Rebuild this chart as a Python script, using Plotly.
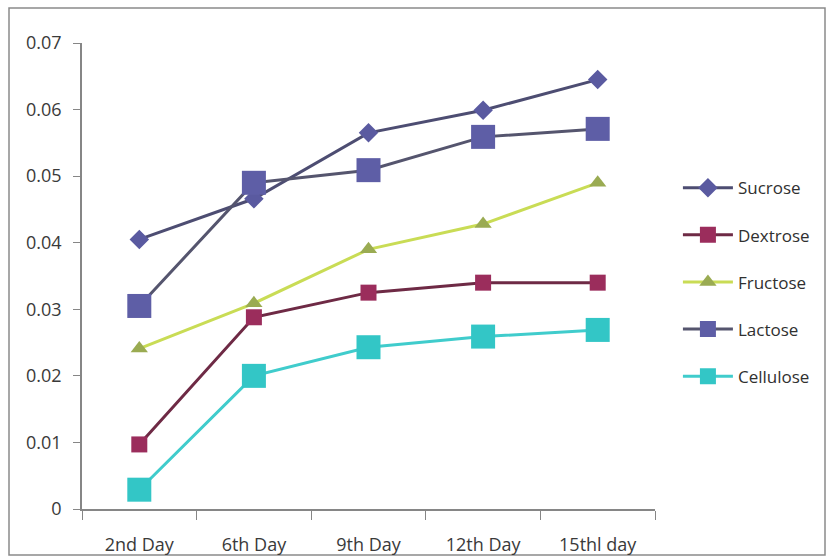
import plotly.graph_objects as go

days = ["2nd Day", "6th Day", "9th Day", "12th Day", "15thl day"]

sucrose = [0.0405, 0.0466, 0.0565, 0.0599, 0.0645]
dextrose = [0.0097, 0.0288, 0.0325, 0.0340, 0.0340]
fructose = [0.0241, 0.0309, 0.0390, 0.0428, 0.0490]
lactose = [0.0305, 0.0490, 0.0509, 0.0559, 0.0571]
cellulose = [0.0029, 0.0200, 0.0243, 0.0259, 0.0269]

series = [
    ("Sucrose", sucrose, "#4d4d72", "#5a5aa0", "diamond", 15),
    ("Dextrose", dextrose, "#6e2a45", "#9b2d5c", "square", 16),
    ("Fructose", fructose, "#c9dc55", "#9aab52", "triangle-up", 15),
    ("Lactose", lactose, "#55556e", "#5e5ea6", "square", 24),
    ("Cellulose", cellulose, "#40cccc", "#33c6c6", "square", 24),
]

fig = go.Figure()
for name, vals, lcol, mcol, sym, size in series:
    fig.add_trace(go.Scatter(
        x=days, y=vals, name=name, legendgroup=name, mode="lines+markers",
        line=dict(color=lcol, width=3),
        marker=dict(symbol=sym, size=size, color=mcol, line=dict(width=0)),
    ))

fig.update_layout(
    width=830, height=558,
    margin=dict(l=82, r=175, t=43, b=49),
    paper_bgcolor="white", plot_bgcolor="white",
    font=dict(family="Open Sans, Liberation Sans, sans-serif", size=18, color="#3a3a3a"),
    showlegend=True,
    legend=dict(x=1.04, y=0.727, xanchor="left", yanchor="top",
                font=dict(size=17, color="#303030"),
                itemsizing="trace", tracegroupgap=22, itemwidth=50),
    xaxis=dict(
        type="category", tickson="boundaries", ticks="outside", ticklen=9,
        tickcolor="#868686", showline=True, linecolor="#868686", linewidth=1.5,
        showgrid=False, zeroline=False, ticklabelstandoff=19, automargin=False,
        range=[-0.5, 4.5],
    ),
    yaxis=dict(
        range=[0, 0.07], dtick=0.01, ticks="outside", ticklen=7,
        tickcolor="#868686", showline=True, linecolor="#868686", linewidth=1.5,
        showgrid=False, zeroline=False, ticklabelstandoff=8, automargin=False,
    ),
    shapes=[dict(type="rect", xref="paper", yref="paper",
                 x0=(9 - 82) / 573, x1=(825 - 82) / 573,
                 y0=(509 - 555) / 466, y1=(509 - 8) / 466,
                 line=dict(color="#8a8a8a", width=1.5), layer="below")],
)

fig.write_html("out.html")
